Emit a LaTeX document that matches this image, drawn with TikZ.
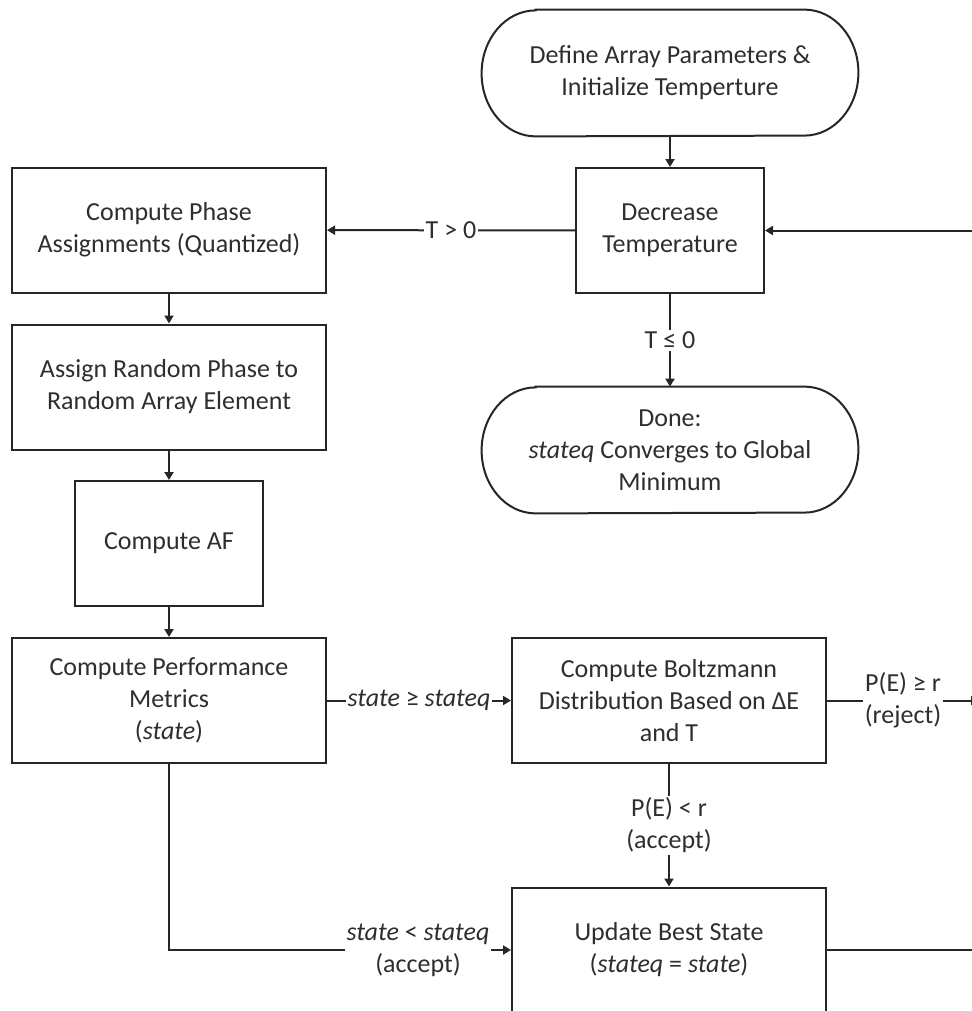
\documentclass[tikz,border=0pt]{standalone}
\usepackage{fontspec}
\setmainfont{Carlito}
\usetikzlibrary{arrows.meta}
\definecolor{ink}{HTML}{262626}
\definecolor{txt}{HTML}{2E2E2E}

% rounded start/end outline drawn around a named node
\newcommand\capsuleoutline[1]{%
  \draw[edge] ([xshift=27pt]#1.north west) -- ([xshift=-27pt]#1.north east)
    arc[start angle=90, end angle=-90, x radius=27pt, y radius=31.5pt]
    -- ([xshift=27pt]#1.south west)
    arc[start angle=270, end angle=90, x radius=27pt, y radius=31.5pt] -- cycle;}

\begin{document}
\begin{tikzpicture}[x=0.5pt, y=-0.5pt,
  font=\fontsize{13pt}{16pt}\selectfont,
  edge/.style={draw=ink, line width=1pt},
  arr/.style={edge, -{Triangle[length=4pt, width=4.5pt]}},
  proc/.style={edge, text=txt, align=center, inner sep=0pt,
    minimum width=157pt, minimum height=62.5pt},
  smallproc/.style={proc, minimum width=94pt},
  capsule/.style={text=txt, align=center, inner sep=0pt,
    minimum width=188pt, minimum height=63pt},
  lbl/.style={fill=white, text=txt, align=center, inner sep=1pt}]

\clip (0,0) rectangle (972,1011);

% main column and right-hand blocks
\node[capsule] (def) at (670,73) {Define Array Parameters \&\\Initialize Temperture};
\node[smallproc] (dec) at (670,230.5) {Decrease\\Temperature};
\node[capsule] (done) at (670,450) {Done:\\\emph{stateq} Converges to Global\\Minimum};
\node[proc] (phase) at (169,230) {Compute Phase\\Assignments (Quantized)};
\node[proc] (assign) at (169,387) {Assign Random Phase to\\Random Array Element};
\node[smallproc] (af) at (169,543.5) {Compute AF};
\node[proc] (perf) at (169,700.5) {Compute Performance\\Metrics\\(\emph{state})};
\node[proc] (boltz) at (669,700.5) {Compute Boltzmann\\Distribution Based on ΔE\\and T};
\node[proc] (update) at (669,950) {Update Best State\\(\emph{stateq} = \emph{state})};

\capsuleoutline{def}
\capsuleoutline{done}

% return path on the right
\coordinate (rj) at (979,700.5);
\coordinate (rb) at (979,950);
\coordinate (rt) at (979,230.5);

% connectors
\draw[arr] (def) -- (dec);
\draw[arr] (dec) -- node[lbl]{T > 0} (phase);
\draw[arr] (dec) -- node[lbl]{T ≤ 0} (done);
\draw[arr] (phase) -- (assign);
\draw[arr] (assign) -- (af);
\draw[arr] (af) -- (perf);
\draw[arr] (perf) -- node[lbl]{\emph{state} ≥ \emph{stateq}} (boltz);
\draw[arr] (boltz) -- node[lbl]{P(E) < r\\(accept)} (update);
\draw[arr] (perf) |- node[lbl, pos=0.864]{\emph{state} < \emph{stateq}\\(accept)} (update);
\draw[arr] (boltz) -- node[lbl]{P(E) ≥ r\\(reject)} (rj);
\draw[arr] (update) -- (rb) -- (rt) -- (dec);

\end{tikzpicture}
\end{document}
